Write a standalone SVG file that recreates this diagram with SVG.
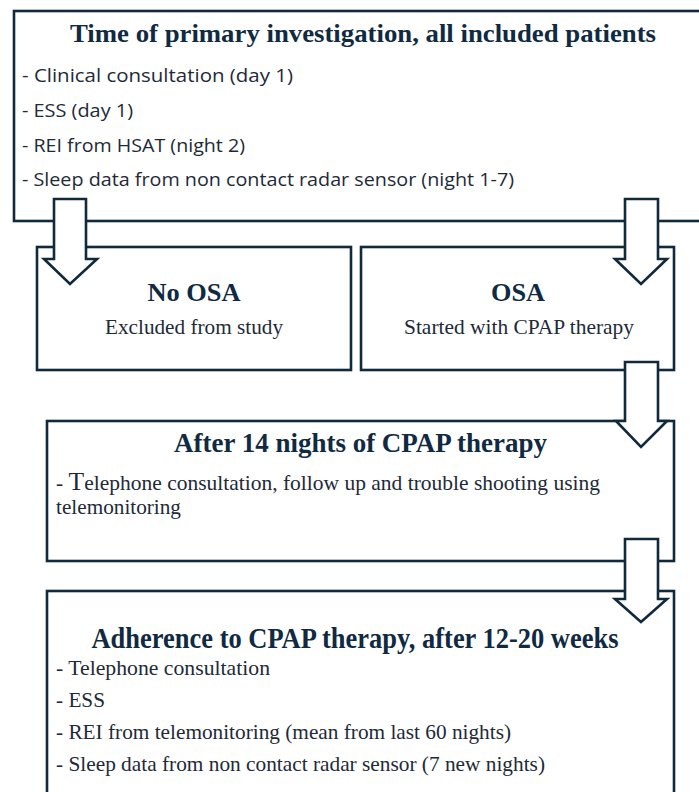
<svg xmlns="http://www.w3.org/2000/svg" width="699" height="792" viewBox="0 0 699 792">
<style>
.box{fill:#fff;stroke:#10293d;stroke-width:2.6}
.arrow{fill:#fff;stroke:#10293d;stroke-width:2.6;stroke-linejoin:miter}
.title{font-family:"Liberation Serif","Times New Roman",serif;font-weight:bold;fill:#0f2a42;text-anchor:middle}
.sub{font-family:"Liberation Serif","Times New Roman",serif;fill:#1e2a38;text-anchor:middle;font-size:21px}
.sans{font-family:"Open Sans","Liberation Sans",sans-serif;fill:#1e2a38;font-size:19px}
.serif{font-family:"Liberation Serif","Times New Roman",serif;fill:#1e2a38;font-size:21px}
</style>
<rect width="699" height="792" fill="#fff"/>
<g id="primary">
<rect class="box" x="14" y="11" width="700" height="210"/>
<text class="title" x="363" y="42" font-size="26" textLength="586" lengthAdjust="spacingAndGlyphs">Time of primary investigation, all included patients</text>
<text class="sans" x="22" y="82" font-size="20" textLength="271" lengthAdjust="spacingAndGlyphs">-  Clinical consultation (day 1)</text>
<text class="sans" x="22" y="117" textLength="111" lengthAdjust="spacingAndGlyphs">- ESS (day 1)</text>
<text class="sans" x="22" y="152" textLength="223" lengthAdjust="spacingAndGlyphs">- REI from HSAT (night 2)</text>
<text class="sans" x="22" y="186" textLength="492" lengthAdjust="spacingAndGlyphs">- Sleep data from non contact radar sensor (night 1-7)</text>
</g>
<g id="no-osa">
<rect class="box" x="37" y="247" width="314" height="123"/>
<text class="title" x="194" y="301" font-size="26" textLength="93" lengthAdjust="spacingAndGlyphs">No OSA</text>
<text class="sub" x="194" y="334" textLength="178" lengthAdjust="spacingAndGlyphs">Excluded from study</text>
</g>
<g id="osa">
<rect class="box" x="361" y="247" width="313" height="123"/>
<text class="title" x="518" y="301" font-size="26" textLength="54" lengthAdjust="spacingAndGlyphs">OSA</text>
<text class="sub" x="519" y="334" textLength="230" lengthAdjust="spacingAndGlyphs">Started with CPAP therapy</text>
</g>
<g id="after-14-nights">
<rect class="box" x="47" y="421" width="627" height="140"/>
<text class="title" x="360.5" y="452" font-size="27" textLength="373" lengthAdjust="spacingAndGlyphs">After 14 nights of CPAP therapy</text>
<text class="serif" x="56" y="490" font-size="20" textLength="544" lengthAdjust="spacingAndGlyphs">- <tspan font-size="25">T</tspan>elephone consultation, follow up and trouble shooting using</text>
<text class="serif" x="56" y="514" font-size="20" textLength="125" lengthAdjust="spacingAndGlyphs">telemonitoring</text>
</g>
<g id="adherence">
<rect class="box" x="47" y="591" width="627" height="230"/>
<text class="title" x="355" y="648" font-size="30" textLength="527" lengthAdjust="spacingAndGlyphs">Adherence to CPAP therapy, after 12-20 weeks</text>
<text class="serif" x="56" y="675" textLength="214" lengthAdjust="spacingAndGlyphs">- Telephone consultation</text>
<text class="serif" x="56" y="707" textLength="49" lengthAdjust="spacingAndGlyphs">- ESS</text>
<text class="serif" x="56" y="739" textLength="455" lengthAdjust="spacingAndGlyphs">- REI from telemonitoring (mean from last 60 nights)</text>
<text class="serif" x="56" y="771" textLength="489" lengthAdjust="spacingAndGlyphs">- Sleep data from non contact radar sensor (7 new nights)</text>
</g>
<g id="connectors">
<polygon class="arrow" points="54,199 86,199 86,259 97,259 70,284 44,259 54,259"/>
<polygon class="arrow" points="625,199 658,199 658,259 667,259 641,284 615,259 625,259"/>
<polygon class="arrow" points="625,362 658,362 658,421 667,421 641,447 616,421 625,421"/>
<polygon class="arrow" points="625,539 658,539 658,599 667,599 641,622 615,599 625,599"/>
</g>
</svg>
